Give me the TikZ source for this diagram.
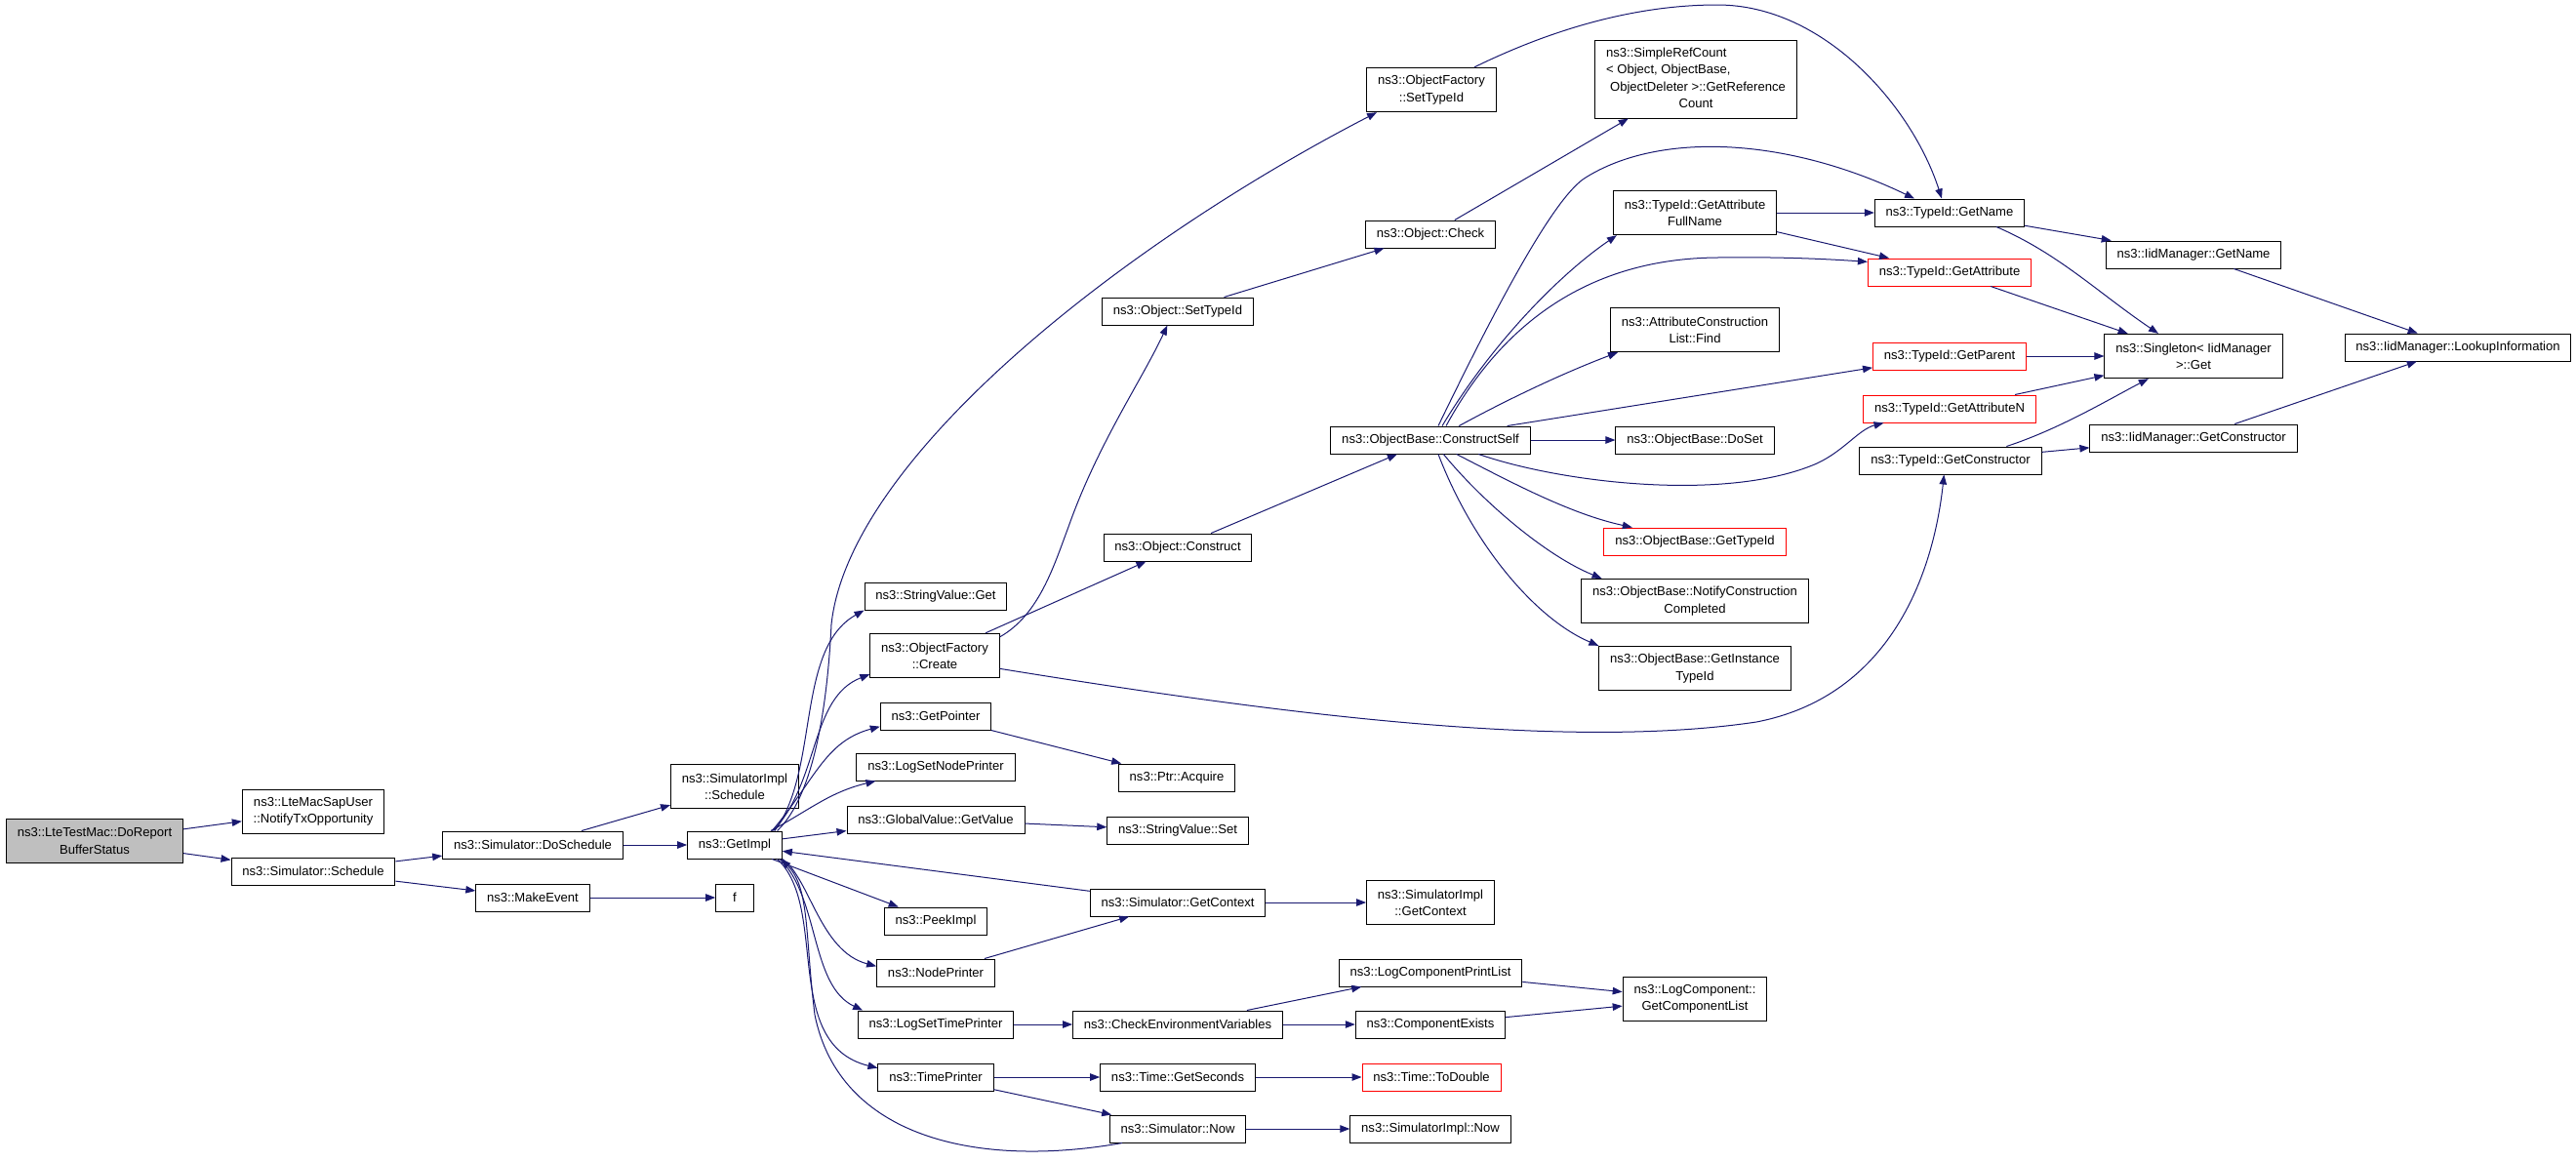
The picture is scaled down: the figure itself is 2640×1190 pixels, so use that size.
\documentclass[tikz,border=0pt]{standalone}
\usepackage{fontspec}
\setmainfont{Liberation Sans}
\usetikzlibrary{arrows.meta}
\definecolor{callblue}{HTML}{191970}
\definecolor{rootgray}{HTML}{BFBFBF}
\tikzset{
  fn/.style={draw=black, line width=0.75pt, fill=white, inner xsep=8.5pt, inner ysep=3pt,
    minimum height=21pt, align=center, font=\fontsize{9.8}{13}\selectfont},
  fn2/.style={fn, minimum height=34pt},
  trunc/.style={draw=red},
  call/.style={draw=callblue, line width=0.75pt, -{Triangle[length=7.5pt,width=5.6pt]}}
}
\begin{document}
\begin{tikzpicture}[x=0.75pt,y=-0.75pt]
\useasboundingbox (0,0) rectangle (2640,1190);
% Callers
\node[fn2, fill=rootgray] (doReport) at (97,862) {ns3::LteTestMac::DoReport\\BufferStatus};
\node[fn2] (notifyTx) at (321,832) {ns3::LteMacSapUser\\::NotifyTxOpportunity};
\node[fn] (schedule) at (321,893) {ns3::Simulator::Schedule};
\node[fn] (doSchedule) at (546,866) {ns3::Simulator::DoSchedule};
\node[fn] (makeEvent) at (546,920) {ns3::MakeEvent};
\node[fn2] (implSchedule) at (753,806) {ns3::SimulatorImpl\\::Schedule};
\node[fn] (getImpl) at (753,866) {ns3::GetImpl};
\node[fn, minimum width=29pt] (fNode) at (753,920) {f};
% Column of GetImpl
\node[fn] (strGet) at (959,611) {ns3::StringValue::Get};
\node[fn2] (create) at (958,672) {ns3::ObjectFactory\\::Create};
\node[fn] (getPointer) at (959,734) {ns3::GetPointer};
\node[fn] (setNodePrinter) at (959,786) {ns3::LogSetNodePrinter};
\node[fn] (getValue) at (959,840) {ns3::GlobalValue::GetValue};
\node[fn] (peekImpl) at (959,944) {ns3::PeekImpl};
\node[fn] (nodePrinter) at (959,997) {ns3::NodePrinter};
\node[fn] (setTimePrinter) at (959,1050) {ns3::LogSetTimePrinter};
\node[fn] (timePrinter) at (959,1104) {ns3::TimePrinter};
%
\node[fn] (objSetTypeId) at (1207,319) {ns3::Object::SetTypeId};
\node[fn] (objConstruct) at (1207,561) {ns3::Object::Construct};
\node[fn] (acquire) at (1206,797) {ns3::Ptr::Acquire};
\node[fn] (strSet) at (1207,851) {ns3::StringValue::Set};
\node[fn] (getContext) at (1207,925) {ns3::Simulator::GetContext};
\node[fn] (checkEnv) at (1207,1050) {ns3::CheckEnvironmentVariables};
\node[fn] (getSeconds) at (1207,1104) {ns3::Time::GetSeconds};
\node[fn] (simNow) at (1207,1157) {ns3::Simulator::Now};
%
\node[fn2] (factSetTypeId) at (1467,92) {ns3::ObjectFactory\\::SetTypeId};
\node[fn] (objCheck) at (1466,240) {ns3::Object::Check};
\node[fn] (constructSelf) at (1466,451) {ns3::ObjectBase::ConstructSelf};
\node[fn2] (implGetContext) at (1466,925) {ns3::SimulatorImpl\\::GetContext};
\node[fn] (printList) at (1466,997) {ns3::LogComponentPrintList};
\node[fn] (compExists) at (1466,1050) {ns3::ComponentExists};
\node[fn, trunc] (toDouble) at (1467,1104) {ns3::Time::ToDouble};
\node[fn] (implNow) at (1466,1157) {ns3::SimulatorImpl::Now};
%
\node[fn, minimum height=60pt] (refCount) at (1738,81) {\begin{tabular}{@{}l@{}}ns3::SimpleRefCount\\
  < Object, ObjectBase,\\ \hspace{3pt}ObjectDeleter >::GetReference\\ \multicolumn{1}{@{}c@{}}{Count}\end{tabular}};
\node[fn2] (attrFullName) at (1737,218) {ns3::TypeId::GetAttribute\\FullName};
\node[fn2] (findAttr) at (1737,338) {ns3::AttributeConstruction\\List::Find};
\node[fn] (doSet) at (1737,451) {ns3::ObjectBase::DoSet};
\node[fn, trunc] (obGetTypeId) at (1737,555) {ns3::ObjectBase::GetTypeId};
\node[fn2] (notifyDone) at (1737,616) {ns3::ObjectBase::NotifyConstruction\\Completed};
\node[fn2] (instTypeId) at (1737,685) {ns3::ObjectBase::GetInstance\\TypeId};
\node[fn2] (compList) at (1737,1024) {ns3::LogComponent::\\GetComponentList};
%
\node[fn] (getName) at (1998,218) {ns3::TypeId::GetName};
\node[fn, trunc] (getAttr) at (1998,279) {ns3::TypeId::GetAttribute};
\node[fn, trunc] (getParent) at (1998,365) {ns3::TypeId::GetParent};
\node[fn, trunc] (getAttrN) at (1998,419) {ns3::TypeId::GetAttributeN};
\node[fn] (getCons) at (1999,472) {ns3::TypeId::GetConstructor};
\node[fn] (iidName) at (2248,261) {ns3::IidManager::GetName};
\node[fn2] (singleton) at (2248,365) {ns3::Singleton< IidManager\\>::Get};
\node[fn] (iidCons) at (2248,449) {ns3::IidManager::GetConstructor};
\node[fn] (lookup) at (2519,356) {ns3::IidManager::LookupInformation};
% Calls
\draw[call] (doReport) -- (notifyTx);
\draw[call] (doReport) -- (schedule);
\draw[call] (schedule) -- (doSchedule);
\draw[call] (schedule) -- (makeEvent);
\draw[call] (doSchedule) -- (implSchedule);
\draw[call] (doSchedule) -- (getImpl);
\draw[call] (makeEvent) -- (fNode);
\draw[call] ([xshift=-4pt]getImpl.north east) .. controls (835,815) and (848,720) .. (852,640)
  .. controls (870,470) and (1150,250) .. ([xshift=8pt]factSetTypeId.south west);
\draw[call] ([xshift=-6pt]getImpl.north east) .. controls (840,790) and (815,665) .. (strGet.south west);
\draw[call] ([xshift=-7pt]getImpl.north east) .. controls (840,800) and (830,715) .. ([yshift=3pt]create.south west);
\draw[call] ([xshift=-8pt]getImpl.north east) .. controls (835,800) and (845,760) .. ([yshift=-8pt]getPointer.west);
\draw[call] ([xshift=-9pt]getImpl.north east) .. controls (830,830) and (850,812) .. ([xshift=15pt]setNodePrinter.south west);
\draw[call] (getImpl) -- (getValue);
\draw[call] (getImpl) -- (peekImpl);
\draw[call] (getImpl.south east) .. controls (830,900) and (840,975) .. ([yshift=5pt]nodePrinter.west);
\draw[call] ([xshift=-2pt]getImpl.south east) .. controls (840,920) and (830,1010) .. ([xshift=4pt]setTimePrinter.north west);
\draw[call] ([xshift=-4pt]getImpl.south east) .. controls (850,930) and (800,1070) .. ([yshift=7pt]timePrinter.west);
\draw[call] (getContext) -- (getImpl);
\draw[call] ([xshift=10pt]simNow.south west) .. controls (1000,1198) and (860,1165) .. (835,1040)
  .. controls (825,960) and (830,910) .. ([xshift=-1pt]getImpl.south east);
\draw[call] (nodePrinter) -- (getContext);
\draw[call] (timePrinter) -- (getSeconds);
\draw[call] (timePrinter) -- (simNow);
\draw[call] (setTimePrinter) -- (checkEnv);
\draw[call] (getPointer) -- (acquire);
\draw[call] (getValue) -- (strSet);
\draw[call] (getContext) -- (implGetContext);
\draw[call] (checkEnv) -- (printList);
\draw[call] (checkEnv) -- (compExists);
\draw[call] (printList) -- (compList);
\draw[call] (compExists) -- (compList);
\draw[call] (getSeconds) -- (toDouble);
\draw[call] (simNow) -- (implNow);
\draw[call] ([yshift=-3pt]create.north east) .. controls (1065,630) and (1080,580) .. (1095,540)
  .. controls (1125,455) and (1170,390) .. ([xshift=-8pt]objSetTypeId.south);
\draw[call] (create) -- (objConstruct);
\draw[call] ([yshift=-10pt]create.east) .. controls (1300,730) and (1600,770) .. (1800,740)
  .. controls (1930,715) and (1980,600) .. ([xshift=-5pt]getCons.south);
\draw[call] (objSetTypeId) -- (objCheck);
\draw[call] (objCheck) -- (refCount);
\draw[call] (objConstruct) -- (constructSelf);
\draw[call] ([xshift=33pt]factSetTypeId.north) .. controls (1570,40) and (1660,5) .. (1760,5)
  .. controls (1870,5) and (1960,110) .. ([xshift=-6pt]getName.north);
% ConstructSelf
\draw[call] ([xshift=6pt]constructSelf.north) .. controls (1540,300) and (1595,200) .. (1625,182)
  .. controls (1700,135) and (1830,140) .. ([xshift=-27pt]getName.north);
\draw[call] ([xshift=9pt]constructSelf.north) .. controls (1530,350) and (1600,280) .. ([xshift=3pt]attrFullName.south west);
\draw[call] ([xshift=12pt]constructSelf.north) .. controls (1540,330) and (1630,265) .. (1760,264)
  .. controls (1830,263) and (1880,266) .. ([yshift=8pt]getAttr.west);
\draw[call] ([xshift=22pt]constructSelf.north) .. controls (1540,412) and (1600,383) .. ([xshift=6pt]findAttr.south west);
\draw[call] ([xshift=59pt]constructSelf.north) -- ([yshift=2pt]getParent.south west);
\draw[call] (constructSelf) -- (doSet);
\draw[call] ([xshift=37pt]constructSelf.south) .. controls (1600,495) and (1770,515) .. (1862,475)
  .. controls (1890,462) and (1905,440) .. ([xshift=16pt]getAttrN.south west);
\draw[call] ([xshift=20pt]constructSelf.south) .. controls (1550,495) and (1610,527) .. ([xshift=22pt]obGetTypeId.north west);
\draw[call] ([xshift=10pt]constructSelf.south) .. controls (1520,515) and (1585,570) .. ([xshift=16pt]notifyDone.north west);
\draw[call] ([xshift=6pt]constructSelf.south) .. controls (1510,560) and (1575,635) .. (instTypeId.north west);
% TypeId
\draw[call] (attrFullName) -- (getName);
\draw[call] (attrFullName) -- (getAttr);
\draw[call] (getName) -- (iidName);
\draw[call] ([xshift=36pt]getName.south) .. controls (2110,260) and (2150,300) .. ([xshift=-27pt]singleton.north);
\draw[call] (getAttr) -- (singleton);
\draw[call] (getParent) -- (singleton);
\draw[call] (getAttrN) -- (singleton);
\draw[call] ([xshift=43pt]getCons.north) .. controls (2110,440) and (2160,410) .. ([xshift=34pt]singleton.south west);
\draw[call] (getCons) -- (iidCons);
\draw[call] (iidName) -- (lookup);
\draw[call] (iidCons) -- (lookup);
\end{tikzpicture}
\end{document}
